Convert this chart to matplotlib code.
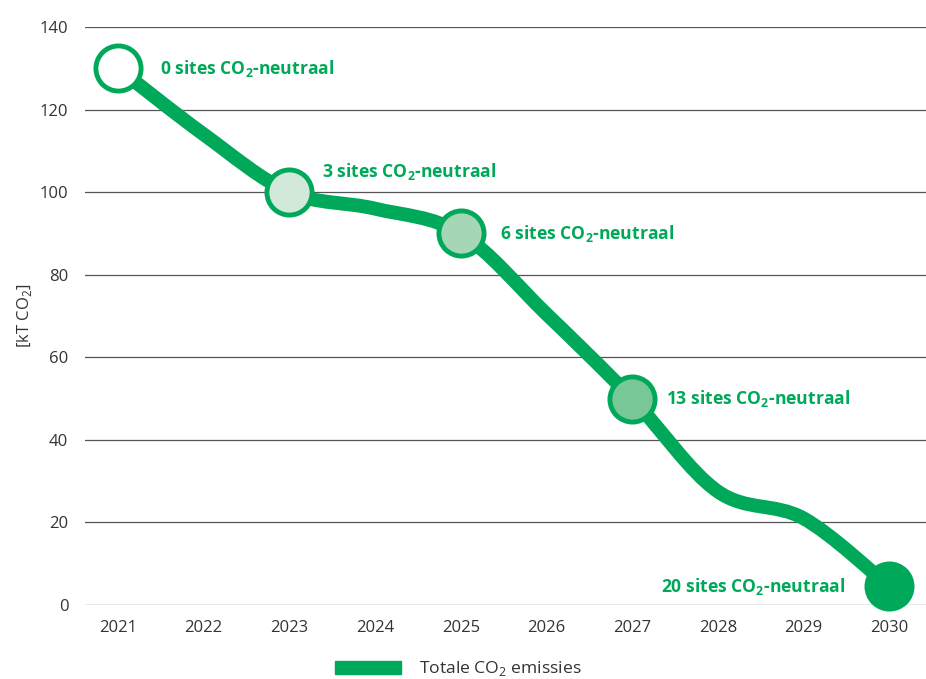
import matplotlib
matplotlib.use('Agg')
import matplotlib.pyplot as plt
from matplotlib.path import Path
from matplotlib.patches import PathPatch, Patch

plt.rcParams['font.family'] = ['Open Sans', 'DejaVu Sans']
plt.rcParams['mathtext.fontset'] = 'custom'
plt.rcParams['mathtext.rm'] = 'Open Sans'
plt.rcParams['mathtext.bf'] = 'Open Sans:bold'

years = [2021, 2022, 2023, 2024, 2025, 2026, 2027, 2028, 2029, 2030]
emissions = [130, 114, 100, 96, 90, 70.5, 50, 27.5, 21, 4.5]

milestone_years = [2021, 2023, 2025, 2027, 2030]
milestone_values = [130, 100, 90, 50, 4.5]
milestone_labels = ['0 sites CO$_\\mathbf{2}$-neutraal',
                    '3 sites CO$_\\mathbf{2}$-neutraal',
                    '6 sites CO$_\\mathbf{2}$-neutraal',
                    '13 sites CO$_\\mathbf{2}$-neutraal',
                    '20 sites CO$_\\mathbf{2}$-neutraal']
milestone_fills = ['#ffffff', '#d2e9d9', '#a5d6b6', '#78c797', '#00a859']

green = '#00a859'

fig = plt.figure(figsize=(9.26, 6.79), dpi=100)
ax = fig.add_axes([85 / 926, 74 / 679, 841 / 926, 578 / 679])
ax.set_xlim(2020.615, 2030.43)
ax.set_ylim(0, 140)

# smoothed line (bezier segments, excel style)
verts = [(years[0], emissions[0])]
codes = [Path.MOVETO]
n = len(years)
for i in range(n - 1):
    x0, y0 = years[max(i - 1, 0)], emissions[max(i - 1, 0)]
    x1, y1 = years[i], emissions[i]
    x2, y2 = years[i + 1], emissions[i + 1]
    x3, y3 = years[min(i + 2, n - 1)], emissions[min(i + 2, n - 1)]
    verts += [(x1 + (x2 - x0) / 6, y1 + (y2 - y0) / 6),
              (x2 - (x3 - x1) / 6, y2 - (y3 - y1) / 6),
              (x2, y2)]
    codes += [Path.CURVE4] * 3
ax.add_patch(PathPatch(Path(verts, codes), facecolor='none', edgecolor=green,
                       lw=10, capstyle='round', joinstyle='round',
                       zorder=3, clip_on=False))

for yr, val, fc in zip(milestone_years, milestone_values, milestone_fills):
    ax.plot(yr, val, 'o', ms=32.5, mfc=fc, mec=green, mew=3.5, zorder=4,
            clip_on=False)

offsets = [(42, 0, 'left'), (33, 21, 'left'), (39, 0, 'left'),
           (34, 0, 'left'), (-44, 0, 'right')]
for yr, val, lab, (dx, dy, ha) in zip(milestone_years, milestone_values,
                                      milestone_labels, offsets):
    ax.annotate(lab, (yr, val), xytext=(dx * 0.72, dy * 0.72),
                textcoords='offset points', ha=ha, va='center',
                color=green, fontsize=12.6, fontweight='bold', zorder=5)

ax.set_yticks(range(0, 141, 20))
ax.set_xticks(years)
ax.grid(axis='y', color='#555555', lw=0.9)
ax.set_axisbelow(True)
for s in ax.spines.values():
    s.set_visible(False)
ax.tick_params(length=0, labelsize=12, labelcolor='#333333')
ax.tick_params(axis='x', pad=11)
ax.tick_params(axis='y', pad=12)
ax.set_ylabel('[kT CO$_2$]', fontsize=12, color='#333333', labelpad=4)

fig.legend(handles=[Patch(color=green, label='Totale CO$_2$ emissies')],
           loc='center', bbox_to_anchor=(458 / 926, 1 - 669 / 679),
           frameon=False, fontsize=12.6, handlelength=3.8, handleheight=0.7,
           handletextpad=1.0, labelcolor='#333333')

fig.savefig('out.png', dpi=100)
